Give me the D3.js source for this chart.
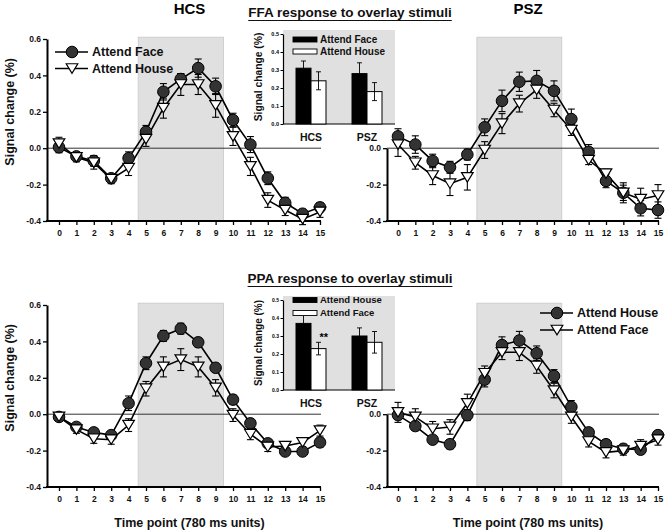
<!DOCTYPE html>
<html><head><meta charset="utf-8">
<script src="https://cdn.jsdelivr.net/npm/d3@7"></script>
<style>
body{margin:0;background:#fff;}
svg{display:block;font-family:"Liberation Sans",Arial,sans-serif;font-weight:bold;}
</style></head><body>
<svg id="c" width="666" height="531"></svg>
<script>
// ---------- DATA ----------
const timePoints = [0,1,2,3,4,5,6,7,8,9,10,11,12,13,14,15];
const yTickValues = [-0.4,-0.2,0.0,0.2,0.4,0.6];
const yTickLabels = ["-0.4","-0.2","0.0","0.2","0.4","0.6"];
const insetTickValues = [0,0.1,0.2,0.3,0.4,0.5];
const insetTickLabels = ["0.0","0.1","0.2","0.3","0.4","0.5"];
const groups = ["HCS","PSZ"];

// FFA (top) – HCS
const ffaHcsFace = [0.005,-0.045,-0.07,-0.165,-0.055,0.09,0.31,0.38,0.44,0.34,0.155,0.02,-0.165,-0.30,-0.36,-0.325];
const ffaHcsFaceErr = [0.03,0.02,0.03,0.02,0.035,0.035,0.045,0.03,0.05,0.045,0.037,0.044,0.035,0.03,0.025,0.025];
const ffaHcsHouse = [0.025,-0.05,-0.08,-0.17,-0.11,0.05,0.22,0.35,0.35,0.235,0.065,-0.10,-0.285,-0.34,-0.39,-0.35];
const ffaHcsHouseErr = [0.035,0.025,0.035,0.025,0.04,0.04,0.055,0.06,0.055,0.065,0.05,0.05,0.04,0.03,0.03,0.03];
// FFA (top) – PSZ
const ffaPszFace = [0.065,0.02,-0.07,-0.105,-0.035,0.115,0.26,0.365,0.37,0.315,0.16,-0.02,-0.18,-0.245,-0.33,-0.34];
const ffaPszFaceErr = [0.042,0.048,0.037,0.033,0.03,0.046,0.059,0.053,0.057,0.055,0.055,0.04,0.037,0.042,0.042,0.045];
const ffaPszHouse = [0.02,-0.08,-0.15,-0.195,-0.16,-0.01,0.135,0.245,0.32,0.21,0.10,-0.065,-0.14,-0.245,-0.28,-0.26];
const ffaPszHouseErr = [0.065,0.035,0.05,0.065,0.07,0.046,0.055,0.046,0.046,0.037,0.03,0.025,0.025,0.055,0.06,0.06];
// PPA (bottom) – HCS
const ppaHcsHouse = [-0.015,-0.07,-0.10,-0.115,0.06,0.28,0.43,0.47,0.395,0.255,0.08,-0.05,-0.16,-0.205,-0.205,-0.155];
const ppaHcsHouseErr = [0.025,0.02,0.02,0.02,0.04,0.035,0.03,0.03,0.025,0.025,0.025,0.025,0.02,0.02,0.02,0.025];
const ppaHcsFace = [-0.015,-0.085,-0.135,-0.14,-0.06,0.14,0.26,0.30,0.26,0.145,-0.005,-0.11,-0.18,-0.175,-0.155,-0.09];
const ppaHcsFaceErr = [0.02,0.02,0.025,0.025,0.035,0.04,0.055,0.06,0.055,0.045,0.035,0.03,0.025,0.025,0.025,0.03];
// PPA (bottom) – PSZ
const ppaPszHouse = [-0.005,-0.065,-0.14,-0.165,-0.005,0.19,0.38,0.405,0.335,0.21,0.04,-0.10,-0.165,-0.19,-0.195,-0.115];
const ppaPszHouseErr = [0.02,0.025,0.02,0.025,0.03,0.04,0.045,0.05,0.04,0.035,0.035,0.025,0.025,0.025,0.025,0.02];
const ppaPszFace = [0.01,-0.015,-0.08,-0.07,0.06,0.225,0.34,0.34,0.265,0.13,-0.015,-0.15,-0.21,-0.2,-0.175,-0.14];
const ppaPszFaceErr = [0.055,0.045,0.04,0.04,0.05,0.04,0.04,0.045,0.04,0.04,0.035,0.03,0.03,0.025,0.035,0.03];

// Inset bars
const ffaInsetFace = [0.31,0.28];
const ffaInsetFaceErr = [0.04,0.06];
const ffaInsetHouse = [0.24,0.18];
const ffaInsetHouseErr = [0.05,0.05];
const ppaInsetHouse = [0.37,0.30];
const ppaInsetHouseErr = [0.05,0.045];
const ppaInsetFace = [0.23,0.265];
const ppaInsetFaceErr = [0.035,0.06];

const stimWindow = [4.55, 9.45];

// ---------- DRAW ----------
const svg = d3.select("#c");

function panel(o){
  const x = d3.scaleLinear().domain([0,15]).range([o.x0,o.x1]);
  const y = d3.scaleLinear().domain([-0.4,0.6]).range([o.yb,o.yt]);
  const g = svg.append("g");
  g.append("rect").attr("x",x(stimWindow[0])).attr("y",y(0.61))
    .attr("width",x(stimWindow[1])-x(stimWindow[0])).attr("height",y(-0.4)-y(0.61))
    .attr("fill","#e0e0e0").attr("stroke","#c8c8c8").attr("stroke-width",0.8);
  g.append("line").attr("x1",o.ax).attr("x2",x(15)+1).attr("y1",y(0)).attr("y2",y(0))
    .attr("stroke","#333").attr("stroke-width",1);
  const yDom = o.partial ? [-0.4,0] : [-0.4,0.6];
  const yA = d3.scaleLinear().domain(yDom).range([y(yDom[0]),y(yDom[1])]);
  const ya = g.append("g").attr("transform",`translate(${o.ax},0)`)
    .call(d3.axisLeft(yA).tickValues(yTickValues.filter(v=>v>=yDom[0]-1e-9&&v<=yDom[1]+1e-9))
      .tickFormat(v=>yTickLabels[yTickValues.findIndex(t=>Math.abs(t-v)<1e-9)])
      .tickSize(4).tickSizeOuter(0).tickPadding(2));
  ya.select(".domain").attr("stroke-width",2).attr("stroke","#000");
  ya.selectAll(".tick line").attr("stroke-width",1.3);
  ya.selectAll("text").attr("font-size",8.5).attr("font-weight","bold").attr("font-family","Liberation Sans, Arial").attr("fill","#111");
  const xa = g.append("g").attr("transform",`translate(0,${y(-0.4)})`)
    .call(d3.axisBottom(x).tickValues(timePoints).tickSize(4).tickSizeOuter(0).tickPadding(5));
  xa.select(".domain").remove();
  xa.append("line").attr("x1",o.ax-1).attr("x2",x(15)+1).attr("y1",0).attr("y2",0).attr("stroke","#000").attr("stroke-width",2);
  xa.selectAll(".tick line").attr("stroke-width",1.3);
  xa.selectAll("text").attr("font-size",8.5).attr("font-weight","bold").attr("font-family","Liberation Sans, Arial").attr("fill","#111");

  o.series.forEach(s=>{
    const line = d3.line().x((d,i)=>x(timePoints[i])).y(d=>y(d));
    g.append("path").attr("d",line(s.vals)).attr("fill","none").attr("stroke","#000").attr("stroke-width",1.6);
  });
  o.series.forEach(s=>{
    const eb = g.append("g").attr("stroke","#000").attr("stroke-width",1.1);
    s.vals.forEach((v,i)=>{
      const cx = x(timePoints[i]), e = s.err[i];
      eb.append("line").attr("x1",cx).attr("x2",cx).attr("y1",y(v-e)).attr("y2",y(v+e));
      [v-e,v+e].forEach(w=>eb.append("line").attr("x1",cx-3.5).attr("x2",cx+3.5).attr("y1",y(w)).attr("y2",y(w)));
    });
  });
  o.series.forEach(s=>{
    s.vals.forEach((v,i)=>marker(g,s.type,x(timePoints[i]),y(v)));
  });
  if(o.title) svg.append("text").attr("x",(x(0)+x(15))/2).attr("y",o.titleY).attr("text-anchor","middle")
    .attr("font-size",15).text(o.title);
  if(o.ylabel){
    const cy = y(0.2);
    svg.append("text").attr("transform",`translate(14,${cy}) rotate(-90)`).attr("text-anchor","middle")
      .attr("font-size",12.5).attr("fill","#111").text("Signal change (%)");
  }
  if(o.xlabel){
    svg.append("text").attr("x",(x(0)+x(15))/2).attr("y",o.xlabelY).attr("text-anchor","middle")
      .attr("font-size",12.5).attr("fill","#111").text("Time point (780 ms units)");
  }
  return {x,y,g};
}

function marker(g,type,cx,cy){
  if(type==="circle"){
    g.append("circle").attr("cx",cx).attr("cy",cy).attr("r",5.8).attr("fill","#333").attr("stroke","#000").attr("stroke-width",1);
  } else {
    const w=5.8, h=9.5;
    g.append("path").attr("d",`M${cx-w},${cy-h/2}L${cx+w},${cy-h/2}L${cx},${cy+h/2}Z`)
      .attr("fill","#fff").attr("stroke","#000").attr("stroke-width",1.2);
  }
}

function legend(x0,y0,entries,fs,dy){
  const g = svg.append("g");
  entries.forEach((e,i)=>{
    const yy = y0+i*dy;
    g.append("line").attr("x1",x0).attr("x2",x0+33).attr("y1",yy).attr("y2",yy).attr("stroke","#000").attr("stroke-width",1.6);
    marker(g,e.type,x0+17,yy);
    g.append("text").attr("x",x0+37).attr("y",yy).attr("dy","0.35em").attr("font-size",fs).attr("fill","#111").text(e.label);
  });
}

function inset(o){
  const y = d3.scaleLinear().domain([0,0.5]).range([o.yb,o.yt]);
  const xb = d3.scaleBand().domain(groups).range([o.ax,o.right]).paddingInner(0.5).paddingOuter(0.25);
  const g = svg.append("g");
  g.append("rect").attr("x",o.ax).attr("y",o.top).attr("width",o.right-o.ax).attr("height",o.yb-o.top).attr("fill","#e0e0e0");
  const ya = g.append("g").attr("transform",`translate(${o.ax},0)`)
    .call(d3.axisLeft(y).tickValues(insetTickValues).tickFormat((v,i)=>insetTickLabels[i]).tickSize(2.5).tickSizeOuter(0).tickPadding(1.5));
  ya.select(".domain").attr("stroke-width",1.2);
  ya.selectAll("text").attr("font-size",o.tfs).attr("font-weight","bold").attr("font-family","Liberation Sans, Arial");
  g.append("line").attr("x1",o.ax).attr("x2",o.right).attr("y1",o.yb).attr("y2",o.yb).attr("stroke","#000").attr("stroke-width",1.2);
  const bw = 15;
  groups.forEach((grp,i)=>{
    const c = xb(grp)+xb.bandwidth()/2;
    [[o.a,o.ae,"#000",c-bw],[o.b,o.be,"#fff",c]].forEach(([vals,errs,fill,bx])=>{
      g.append("rect").attr("x",bx).attr("y",y(vals[i])).attr("width",bw).attr("height",y(0)-y(vals[i]))
        .attr("fill",fill).attr("stroke","#000").attr("stroke-width",1);
      const ex = bx+bw/2;
      g.append("line").attr("x1",ex).attr("x2",ex).attr("y1",y(vals[i]-errs[i])).attr("y2",y(vals[i]+errs[i])).attr("stroke","#000").attr("stroke-width",0.9);
      [vals[i]-errs[i],vals[i]+errs[i]].forEach(w=>g.append("line").attr("x1",ex-2.5).attr("x2",ex+2.5).attr("y1",y(w)).attr("y2",y(w)).attr("stroke","#000").attr("stroke-width",0.9));
    });
    g.append("text").attr("x",c).attr("y",o.yb+13).attr("dy","0.35em").attr("text-anchor","middle").attr("font-size",10.5).attr("fill","#111").text(grp);
  });
  if(o.stars){
    const c = xb("HCS")+xb.bandwidth()/2;
    g.append("text").attr("x",c+bw/2+1).attr("y",y(o.b[0]+o.be[0])-1).attr("text-anchor","start").attr("font-size",11).text("**");
  }
  g.append("text").attr("transform",`translate(258,${(o.yb+o.top)/2}) rotate(-90)`).attr("text-anchor","middle")
    .attr("dy","0.35em").attr("font-size",o.lfs).attr("fill","#111").text("Signal change (%)");
  [[o.la,"#000"],[o.lb,"#fff"]].forEach(([lab,fill],i)=>{
    const yy = o.legY + i*o.legDy;
    g.append("rect").attr("x",293).attr("y",yy-2.5).attr("width",24).attr("height",5).attr("fill",fill).attr("stroke","#000").attr("stroke-width",0.9);
    g.append("text").attr("x",320).attr("y",yy).attr("dy","0.35em").attr("font-size",o.legFs).attr("fill","#111").text(lab);
  });
}

panel({x0:59,x1:320,yt:39,yb:221,ax:47,title:"HCS",titleY:14,ylabel:true,
  series:[{type:"circle",vals:ffaHcsFace,err:ffaHcsFaceErr},{type:"tri",vals:ffaHcsHouse,err:ffaHcsHouseErr}]});
panel({x0:398,x1:658,yt:39,yb:221,ax:387,partial:true,title:"PSZ",titleY:14,
  series:[{type:"circle",vals:ffaPszFace,err:ffaPszFaceErr},{type:"tri",vals:ffaPszHouse,err:ffaPszHouseErr}]});
panel({x0:59,x1:320,yt:305,yb:487,ax:47,ylabel:true,xlabel:true,xlabelY:527,
  series:[{type:"circle",vals:ppaHcsHouse,err:ppaHcsHouseErr},{type:"tri",vals:ppaHcsFace,err:ppaHcsFaceErr}]});
panel({x0:398,x1:658,yt:305,yb:487,ax:387,partial:true,xlabel:true,xlabelY:527,
  series:[{type:"circle",vals:ppaPszHouse,err:ppaPszHouseErr},{type:"tri",vals:ppaPszFace,err:ppaPszFaceErr}]});

legend(55,52,[{type:"circle",label:"Attend Face"},{type:"tri",label:"Attend House"}],12.5,16.5);
legend(540,313,[{type:"circle",label:"Attend House"},{type:"tri",label:"Attend Face"}],12.5,17);

inset({ax:283,right:395,top:30,yt:34,yb:124,a:ffaInsetFace,ae:ffaInsetFaceErr,b:ffaInsetHouse,be:ffaInsetHouseErr,
  la:"Attend Face",lb:"Attend House",legY:39.5,legDy:12,legFs:10,tfs:5.5,lfs:10.3});
inset({ax:283,right:395,top:296,yt:300,yb:390,a:ppaInsetHouse,ae:ppaInsetHouseErr,b:ppaInsetFace,be:ppaInsetFaceErr,
  la:"Attend House",lb:"Attend Face",legY:300,legDy:13,legFs:9.5,tfs:5,lfs:10,stars:true});

[["FFA response to overlay stimuli",17],["PPA response to overlay stimuli",283]].forEach(([t,yy])=>{
  const tx = svg.append("text").attr("x",350).attr("y",yy).attr("text-anchor","middle").attr("font-size",13.5).attr("fill","#111").text(t);
  const bb = tx.node().getBBox();
  svg.append("line").attr("x1",bb.x).attr("x2",bb.x+bb.width).attr("y1",yy+3.5).attr("y2",yy+3.5).attr("stroke","#111").attr("stroke-width",1.2);
});
</script></body></html>
